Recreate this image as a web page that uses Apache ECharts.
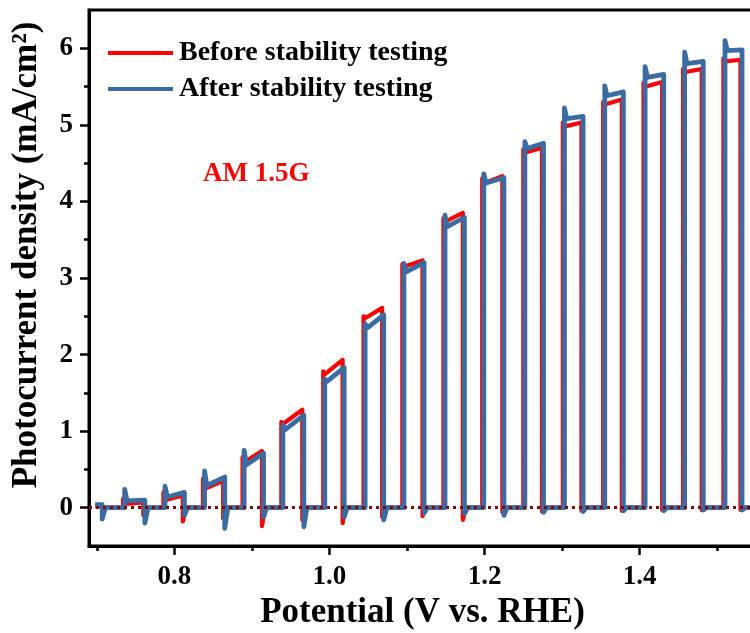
<!DOCTYPE html>
<html>
<head>
<meta charset="utf-8">
<title>Chopped-light photocurrent</title>
<script src="https://cdn.jsdelivr.net/npm/echarts@6/dist/echarts.min.js"></script>
<style>
  html, body { margin: 0; padding: 0; background: #fff; }
  #chart { width: 750px; height: 633px; }
</style>
</head>
<body>
<div id="chart"></div>
<script>
// Chopped-illumination LSV: light-on / light-off windows (V vs. RHE)
const scanStart = 0.698;
const scanEnd = 1.55;
const firstOff = 0.707;

const beforeOn  = [0.734, 0.786, 0.837, 0.888, 0.938, 0.992, 1.044, 1.094, 1.147, 1.197, 1.250, 1.301, 1.353, 1.405, 1.456, 1.508];
const beforeOff = [0.760, 0.811, 0.863, 0.913, 0.965, 1.017, 1.068, 1.120, 1.172, 1.223, 1.274, 1.325, 1.377, 1.429, 1.480, 1.530];
const afterOn   = [0.736, 0.788, 0.839, 0.890, 0.940, 0.994, 1.046, 1.096, 1.149, 1.199, 1.252, 1.303, 1.355, 1.407, 1.458, 1.510];
const afterOff  = [0.762, 0.813, 0.865, 0.915, 0.967, 1.019, 1.070, 1.122, 1.174, 1.225, 1.276, 1.327, 1.379, 1.431, 1.482, 1.532];

// Photocurrent density (mA/cm2): onset spike, plateau start, plateau end, dark-side dip
const beforeSpike = [0.12, 0.20, 0.38, 0.66, 1.12, 1.78, 2.50, 3.18, 3.78, 4.30, 4.68, 5.03, 5.30, 5.55, 5.73, 5.87];
const beforeStart = [0.05, 0.10, 0.25, 0.60, 1.10, 1.75, 2.48, 3.15, 3.74, 4.24, 4.64, 4.98, 5.27, 5.50, 5.69, 5.83];
const beforeEnd   = [0.07, 0.16, 0.35, 0.74, 1.28, 1.93, 2.61, 3.23, 3.85, 4.33, 4.70, 5.03, 5.33, 5.56, 5.73, 5.85];
const beforeDip   = [-0.10, -0.18, -0.14, -0.24, -0.16, -0.20, -0.12, -0.11, -0.16, -0.06, -0.05, -0.04, -0.04, -0.03, -0.03, -0.03];

const afterSpike = [0.24, 0.28, 0.48, 0.75, 1.08, 1.68, 2.40, 3.19, 3.82, 4.36, 4.78, 5.22, 5.51, 5.76, 5.95, 6.10];
const afterStart = [0.09, 0.14, 0.29, 0.56, 1.02, 1.65, 2.35, 3.08, 3.67, 4.24, 4.69, 5.08, 5.38, 5.62, 5.80, 5.97];
const afterEnd   = [0.10, 0.20, 0.40, 0.71, 1.21, 1.83, 2.52, 3.20, 3.79, 4.31, 4.76, 5.11, 5.43, 5.66, 5.83, 5.98];
const afterDip   = [-0.20, -0.10, -0.27, -0.12, -0.25, -0.12, -0.16, -0.07, -0.08, -0.10, -0.06, -0.05, -0.04, -0.04, -0.03, -0.03];

// Current at the very start of the scan (light on) and its switch-off dip
const beforeInit = [0.02, -0.06];
const afterInit  = [0.04, -0.15];

const xMajorTicks = [0.8, 1.0, 1.2, 1.4];
const xMinorTicks = [0.7, 0.9, 1.1, 1.3, 1.5];
const yMajorTicks = [0, 1, 2, 3, 4, 5, 6];
const yMinorTicks = [0.5, 1.5, 2.5, 3.5, 4.5, 5.5];

const seriesNames = ['Before stability testing', 'After stability testing'];

// Transient widths (V) for the spike decay and dark recovery
const DECAY = 0.003;
const RECOVER = 0.004;

function buildTrace(on, off, spike, start, end, dip, init) {
  const pts = [
    [scanStart, init[0]],
    [firstOff, init[0]],
    [firstOff, init[1]],
    [firstOff + RECOVER, 0]
  ];
  for (let i = 0; i < on.length; i++) {
    pts.push([on[i], 0]);
    pts.push([on[i], spike[i]]);
    pts.push([on[i] + DECAY, start[i]]);
    pts.push([off[i], end[i]]);
    pts.push([off[i], dip[i]]);
    pts.push([off[i] + RECOVER, 0]);
  }
  pts.push([scanEnd, 0]);
  return pts;
}

const beforeData = buildTrace(beforeOn, beforeOff, beforeSpike, beforeStart, beforeEnd, beforeDip, beforeInit);
const afterData = buildTrace(afterOn, afterOff, afterSpike, afterStart, afterEnd, afterDip, afterInit);

const FONT = "'Liberation Serif', 'Times New Roman', serif";
const RED = '#FF0000';
const BLUE = '#3A6CA3';

const chart = echarts.init(document.getElementById('chart'), null, { renderer: 'canvas' });

const gridBox = { left: 89, top: 10, width: 667, height: 536, outerBoundsMode: 'none',
  show: true, borderColor: '#000', borderWidth: 3 };

chart.setOption({
  animation: false,
  backgroundColor: '#fff',
  grid: gridBox,
  legend: {
    data: seriesNames,
    orient: 'vertical',
    left: 103,
    top: 34,
    itemWidth: 65,
    itemHeight: 4,
    itemGap: 8,
    icon: 'rect',
    selectedMode: false,
    textStyle: { fontFamily: FONT, fontWeight: 'bold', fontSize: 28, color: '#000', padding: [0, 0, 0, 1] }
  },
  xAxis: [
    {
      type: 'value', min: 0.69, max: 1.55,
      name: 'Potential (V vs. RHE)', nameLocation: 'middle', nameGap: 45,
      nameTextStyle: { fontFamily: FONT, fontWeight: 'bold', fontSize: 35, color: '#000' },
      axisLine: { show: true, onZero: false, lineStyle: { color: '#000', width: 3 } },
      axisTick: { show: true, inside: false, length: 9, customValues: xMajorTicks, lineStyle: { color: '#000', width: 2.5 } },
      axisLabel: { show: true, margin: 18, customValues: xMajorTicks,
        formatter: v => v.toFixed(1),
        fontFamily: FONT, fontWeight: 'bold', fontSize: 27, color: '#000' },
      splitLine: { show: false }
    },
    {
      type: 'value', min: 0.69, max: 1.55, position: 'bottom',
      axisLine: { show: false, onZero: false },
      axisTick: { show: true, inside: false, length: 5, customValues: xMinorTicks, lineStyle: { color: '#000', width: 2.5 } },
      axisLabel: { show: false },
      splitLine: { show: false }
    }
  ],
  yAxis: [
    {
      type: 'value', min: -0.5, max: 6.5,
      axisLine: { show: true, onZero: false, lineStyle: { color: '#000', width: 3 } },
      axisTick: { show: true, inside: false, length: 9, customValues: yMajorTicks, lineStyle: { color: '#000', width: 2.5 } },
      axisLabel: { show: true, margin: 16, customValues: yMajorTicks,
        fontFamily: FONT, fontWeight: 'bold', fontSize: 27, color: '#000' },
      splitLine: { show: false }
    },
    {
      type: 'value', min: -0.5, max: 6.5, position: 'left',
      axisLine: { show: false, onZero: false },
      axisTick: { show: true, inside: false, length: 5, customValues: yMinorTicks, lineStyle: { color: '#000', width: 2.5 } },
      axisLabel: { show: false },
      splitLine: { show: false }
    }
  ],
  graphic: [
    {
      type: 'text', x: 27, y: 255, rotation: Math.PI / 2,
      style: {
        text: 'Photocurrent density (mA/cm²)',
        fontFamily: FONT, fontWeight: 'bold', fontSize: 35, fill: '#000',
        align: 'center', verticalAlign: 'middle'
      }
    },
    {
      type: 'text', x: 203, y: 174,
      style: {
        text: 'AM 1.5G',
        fontFamily: FONT, fontWeight: 'bold', fontSize: 27, fill: RED,
        align: 'left', verticalAlign: 'middle'
      }
    }
  ],
  series: [
    {
      name: seriesNames[0], type: 'line', data: beforeData,
      showSymbol: false, symbol: 'none', sampling: null, z: 2,
      color: RED,
      lineStyle: { color: RED, width: 4.2, join: 'round' }
    },
    {
      name: seriesNames[1], type: 'line', data: afterData,
      showSymbol: false, symbol: 'none', sampling: null, z: 3,
      color: BLUE,
      lineStyle: { color: BLUE, width: 4.8, join: 'round' }
    },
    {
      // dark-current reference at zero
      type: 'line', data: [], z: 5, silent: true,
      markLine: {
        silent: true, symbol: 'none', animation: false,
        label: { show: false },
        lineStyle: { color: '#7A0A0A', width: 3, type: [3, 4] },
        data: [{ yAxis: 0 }]
      }
    }
  ]
});
</script>
</body>
</html>
